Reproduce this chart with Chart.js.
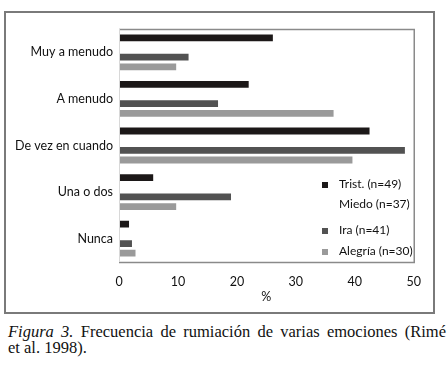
<!DOCTYPE html>
<html><head><meta charset="utf-8">
<script src="https://cdn.jsdelivr.net/npm/chart.js@4"></script>
<style>
html,body{margin:0;padding:0;background:#fff;width:447px;height:369px;overflow:hidden}
#frame{position:absolute;left:4px;top:11px;width:427px;height:299px;border:2px solid #7a7a7a;}
#wrap{position:absolute;left:0;top:0;width:427px;height:299px}
#cap1{position:absolute;left:8px;top:324px;width:438px;font-family:"Liberation Serif","Times New Roman",serif;font-size:16.5px;line-height:16px;color:#111;text-align:justify;text-align-last:justify;white-space:nowrap}
#cap2{position:absolute;left:8px;top:340px;font-family:"Liberation Serif","Times New Roman",serif;font-size:16.5px;line-height:16px;color:#111}
</style></head>
<body>
<div id="frame"><div id="wrap"><canvas id="c" width="427" height="299"></canvas></div></div>
<div id="cap1"><i>Figura 3.</i> Frecuencia de rumiación de varias emociones (Rimé</div>
<div id="cap2">et al. 1998).</div>
<script>
const categories = ["Muy a menudo", "A menudo", "De vez en cuando", "Una o dos", "Nunca"];
const seriesLabels = ["Trist. (n=49)", "Miedo (n=37)", "Ira (n=41)", "Alegría (n=30)"];
const trist   = [26.1, 22.0, 42.5, 5.8, 1.7];
const miedo   = [null, null, null, null, null]; // bars not visible in the reference
const ira     = [11.8, 16.8, 48.5, 19.0, 2.2];
const alegria = [9.7, 36.4, 39.6, 9.7, 2.8];
const xTicks  = [0, 10, 20, 30, 40, 50];
const xTitle  = "%";

const colors = ["#1c1818", "#ffffff", "#525252", "#9a9a9a"];
const seriesValues = [trist, miedo, ira, alegria];
const FONT = "Lato";

const framePlugin = {
  id: 'frame',
  afterDatasetsDraw(chart) {
    const {ctx, chartArea: a} = chart;
    ctx.save();
    ctx.lineWidth = 1.5;
    ctx.strokeStyle = '#8a8a8a';
    ctx.beginPath();
    ctx.moveTo(a.left, a.top + 0.5);
    ctx.lineTo(a.right + 0.5, a.top + 0.5);
    ctx.lineTo(a.right + 0.5, a.bottom + 0.5);
    ctx.lineTo(a.left, a.bottom + 0.5);
    ctx.stroke();
    ctx.strokeStyle = '#d8d8d8';
    ctx.lineWidth = 1;
    ctx.beginPath();
    ctx.moveTo(a.left + 0.5, a.top);
    ctx.lineTo(a.left + 0.5, a.bottom);
    ctx.stroke();
    ctx.restore();
  }
};

const legendPlugin = {
  id: 'customLegend',
  afterDraw(chart) {
    const {ctx} = chart;
    const ys = [171, 191, 217, 238];
    ctx.save();
    ctx.font = "12px " + FONT;
    ctx.textBaseline = 'middle';
    ctx.textAlign = 'left';
    chart.data.datasets.forEach((ds, i) => {
      ctx.fillStyle = ds.backgroundColor;
      ctx.fillRect(316, ys[i] - 2, 6, 6);
      ctx.fillStyle = '#111';
      ctx.fillText(ds.label, 333, ys[i]);
    });
    ctx.restore();
  }
};

new Chart(document.getElementById('c'), {
  type: 'bar',
  data: {
    labels: categories,
    datasets: seriesLabels.map((l, i) => ({
      label: l,
      data: seriesValues[i],
      backgroundColor: colors[i],
      barPercentage: 0.7,
      categoryPercentage: 0.83
    }))
  },
  options: {
    indexAxis: 'y',
    responsive: false,
    animation: false,
    layout: {padding: {top: 16, right: 10, left: 0, bottom: 0}},
    plugins: {legend: {display: false}, tooltip: {enabled: false}},
    scales: {
      x: {
        min: 0, max: 50,
        afterBuildTicks(s) { s.ticks = xTicks.map(v => ({value: v})); },
        afterFit(s) { s.height = 50; },
        grid: {display: false, drawTicks: false},
        border: {display: false},
        ticks: {font: {family: FONT, size: 12.5}, color: '#111', padding: 12},
        title: {display: true, text: xTitle, font: {family: FONT, size: 12.5}, color: '#111', padding: {top: 0, bottom: 8}}
      },
      y: {
        afterFit(s) { s.width = 113; },
        grid: {display: false, drawTicks: false},
        border: {display: false},
        ticks: {font: {family: FONT, size: 12.5}, color: '#111', padding: 6}
      }
    }
  },
  plugins: [framePlugin, legendPlugin]
});
</script>
</body></html>
